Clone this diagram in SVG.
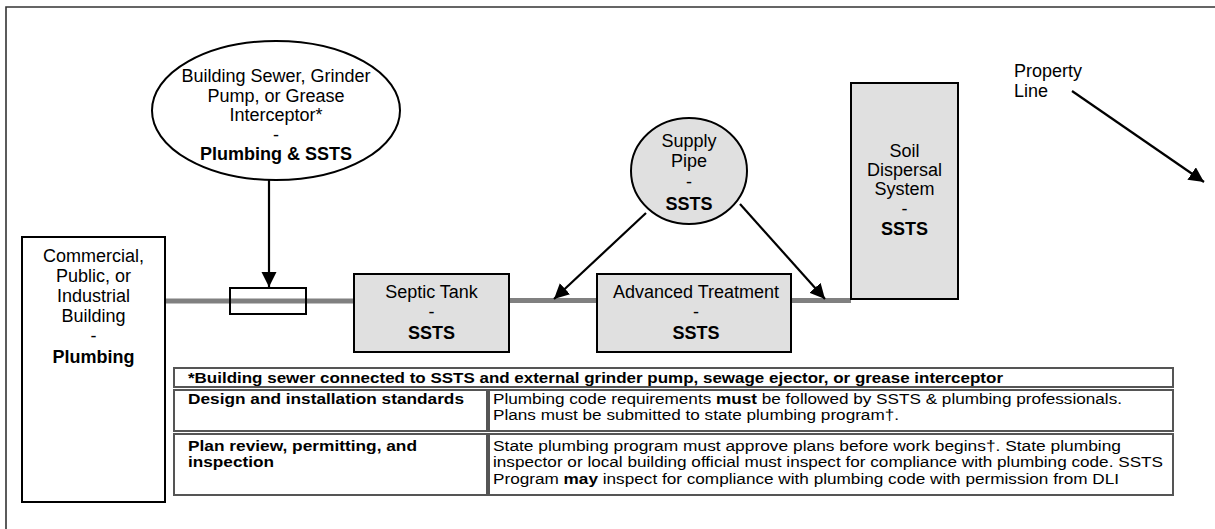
<svg xmlns="http://www.w3.org/2000/svg" width="1215" height="529" viewBox="0 0 1215 529">
<style>
text{font-family:"Liberation Sans",Arial,sans-serif;fill:#000}
.n{font-size:18px;text-anchor:middle}
.b{font-weight:bold}
.t{font-size:15.5px}
.box{stroke:#000;stroke-width:2}
.gray{fill:#e0e0e0}
.pipe{stroke:#808080;stroke-width:5;fill:none}
.arr{stroke:#000;stroke-width:2.2;fill:none;marker-end:url(#ah)}
.cell{fill:#fff;stroke:#555;stroke-width:2}
</style>
<defs>
<marker id="ah" markerUnits="userSpaceOnUse" markerWidth="16" markerHeight="16" refX="15" refY="7.5" orient="auto">
<path d="M0,0 L15,7.5 L0,15 z" fill="#000"/>
</marker>
</defs>
<rect width="1215" height="529" fill="#fff"/>
<g id="frame">
<path d="M6,529 V7 H1215" fill="none" stroke="#333" stroke-width="1.6"/>
</g>
<g id="connectors">
<line class="pipe" x1="165" y1="301" x2="354" y2="301"/>
<line class="pipe" x1="509" y1="300.5" x2="597" y2="300.5"/>
<line class="pipe" x1="791" y1="300.5" x2="851" y2="300.5"/>
<line class="arr" x1="269" y1="180" x2="269" y2="287"/>
<line class="arr" x1="646" y1="213" x2="554" y2="299"/>
<line class="arr" x1="740" y1="204" x2="825" y2="299"/>
<line class="arr" x1="1072" y1="91" x2="1204" y2="182"/>
</g>
<g id="grinder-fitting">
<rect x="230" y="288" width="76" height="26" fill="none" stroke="#000" stroke-width="2"/>
</g>
<g id="building">
<rect class="box" x="22" y="237" width="143" height="265" fill="#fff"/>
<text class="n" x="93.5" y="262">Commercial,</text>
<text class="n" x="93.5" y="282">Public, or</text>
<text class="n" x="93.5" y="302">Industrial</text>
<text class="n" x="93.5" y="322">Building</text>
<text class="n" x="93.5" y="342">-</text>
<text class="n b" x="93.5" y="363">Plumbing</text>
</g>
<g id="grinder">
<ellipse class="box" cx="276" cy="110.5" rx="124" ry="69.5" fill="#fff"/>
<text class="n" x="276" y="82">Building Sewer, Grinder</text>
<text class="n" x="276" y="102">Pump, or Grease</text>
<text class="n" x="276" y="121">Interceptor*</text>
<text class="n" x="276" y="141">-</text>
<text class="n b" x="276" y="160">Plumbing &amp; SSTS</text>
</g>
<g id="septic">
<rect class="box gray" x="354" y="274" width="155" height="78"/>
<text class="n" x="431.5" y="298">Septic Tank</text>
<text class="n" x="431.5" y="318">-</text>
<text class="n b" x="431.5" y="339">SSTS</text>
</g>
<g id="advanced">
<rect class="box gray" x="597" y="274" width="194" height="78"/>
<text class="n" x="696" y="298">Advanced Treatment</text>
<text class="n" x="696" y="318">-</text>
<text class="n b" x="696" y="339">SSTS</text>
</g>
<g id="supply">
<ellipse class="box gray" cx="689" cy="171" rx="58" ry="53"/>
<text class="n" x="689" y="147">Supply</text>
<text class="n" x="689" y="167">Pipe</text>
<text class="n" x="689" y="188">-</text>
<text class="n b" x="689" y="210">SSTS</text>
</g>
<g id="soil">
<rect class="box gray" x="851" y="83" width="107" height="216"/>
<text class="n" x="904.5" y="157">Soil</text>
<text class="n" x="904.5" y="176">Dispersal</text>
<text class="n" x="904.5" y="195">System</text>
<text class="n" x="904.5" y="215">-</text>
<text class="n b" x="904.5" y="235">SSTS</text>
</g>
<g id="property-line">
<text x="1014" y="77" style="font-size:18px">Property</text>
<text x="1014" y="97" style="font-size:18px">Line</text>
</g>
<g id="table">
<rect class="cell" x="174" y="368" width="999" height="19"/>
<rect class="cell" x="174" y="390" width="313" height="41"/>
<rect class="cell" x="489" y="390" width="684" height="41"/>
<rect class="cell" x="174" y="434" width="313" height="61"/>
<rect class="cell" x="489" y="434" width="684" height="61"/>
<text class="t b" x="188" y="383" textLength="815" lengthAdjust="spacingAndGlyphs">*Building sewer connected to SSTS and external grinder pump, sewage ejector, or grease interceptor</text>
<text class="t b" x="188" y="404" textLength="276" lengthAdjust="spacingAndGlyphs">Design and installation standards</text>
<text class="t" x="493" y="404" textLength="629" lengthAdjust="spacingAndGlyphs">Plumbing code requirements <tspan class="b">must</tspan> be followed by SSTS &amp; plumbing professionals.</text>
<text class="t" x="493" y="420" textLength="406" lengthAdjust="spacingAndGlyphs">Plans must be submitted to state plumbing program†.</text>
<text class="t b" x="188" y="451" textLength="229" lengthAdjust="spacingAndGlyphs">Plan review, permitting, and</text>
<text class="t b" x="188" y="467" textLength="86" lengthAdjust="spacingAndGlyphs">inspection</text>
<text class="t" x="493" y="451" textLength="628" lengthAdjust="spacingAndGlyphs">State plumbing program must approve plans before work begins†. State plumbing</text>
<text class="t" x="493" y="467" textLength="670" lengthAdjust="spacingAndGlyphs">inspector or local building official must inspect for compliance with plumbing code. SSTS</text>
<text class="t" x="493" y="484" textLength="626" lengthAdjust="spacingAndGlyphs">Program <tspan class="b">may</tspan> inspect for compliance with plumbing code with permission from DLI</text>
</g>
</svg>
